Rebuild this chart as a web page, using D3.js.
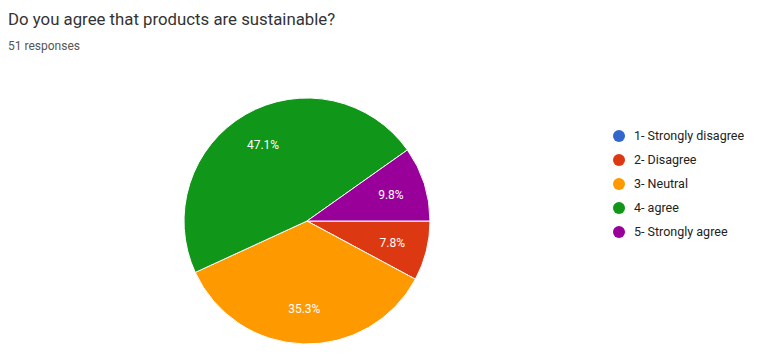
<!DOCTYPE html>
<html>
<head>
<meta charset="utf-8">
<script src="https://cdn.jsdelivr.net/npm/d3@7.9.0/dist/d3.min.js"></script>
<style>
  body { margin: 0; background: #fff; font-family: Roboto, "Noto Sans", Arial, sans-serif; }
  svg { display: block; }
</style>
</head>
<body>
<svg width="779" height="353"></svg>
<script>
const labels = ["1- Strongly disagree", "2- Disagree", "3- Neutral", "4- agree", "5- Strongly agree"];
const counts = [0, 4, 18, 24, 5];
const colorList = ["#3366cc", "#dc3912", "#ff9900", "#109618", "#990099"];

const svg = d3.select("svg");

svg.append("text")
  .attr("x", 8).attr("y", 25)
  .attr("font-size", 16.8)
  .attr("fill", "#333")
  .text("Do you agree that products are sustainable?");

svg.append("text")
  .attr("x", 8).attr("y", 50)
  .attr("font-size", 12)
  .attr("fill", "#555")
  .text("51 responses");

const total = d3.sum(counts);
const data = labels.map((label, i) => ({ label, value: counts[i] }));

let colors = d3.scaleOrdinal().domain(labels).range(colorList);
// google forms pies start at 3 o'clock
let sliceGenerator = d3.pie().value(d => d.value).sort(null)
  .startAngle(Math.PI / 2).endAngle(Math.PI / 2 + 2 * Math.PI);
let arcGenerator = d3.arc().innerRadius(0).outerRadius(123);
let labelArc = d3.arc().innerRadius(88).outerRadius(88);

const pie = svg.append("g").attr("transform", "translate(307,221)");
const arcData = sliceGenerator(data).filter(d => d.value > 0);

pie.selectAll("path")
  .data(arcData)
  .join("path")
  .attr("d", arcGenerator)
  .attr("fill", d => colors(d.data.label))
  .attr("stroke", "#fff")
  .attr("stroke-width", 1);

pie.selectAll("text")
  .data(arcData)
  .join("text")
  .attr("transform", d => `translate(${labelArc.centroid(d)})`)
  .attr("text-anchor", "middle")
  .attr("dy", "0.35em")
  .attr("font-size", 12)
  .attr("fill", "#fff")
  .text(d => (d.value / total * 100).toFixed(1) + "%");

const legend = svg.append("g").attr("transform", "translate(619,136)");
const items = legend.selectAll("g")
  .data(labels)
  .join("g")
  .attr("transform", (d, i) => `translate(0,${i * 24})`);

items.append("circle")
  .attr("r", 6)
  .attr("fill", d => colors(d));

items.append("text")
  .attr("x", 15)
  .attr("dy", "0.35em")
  .attr("font-size", 12.5)
  .attr("fill", "#222")
  .text(d => d);
</script>
</body>
</html>
